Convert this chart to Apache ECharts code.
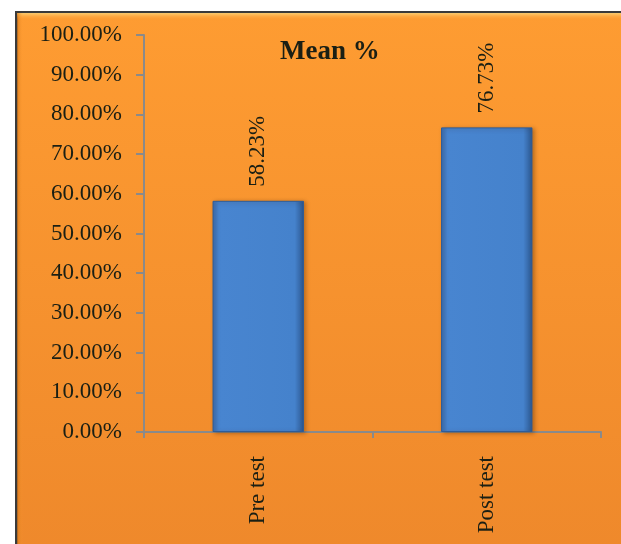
<!DOCTYPE html>
<html><head><meta charset="utf-8">
<script src="https://cdn.jsdelivr.net/npm/echarts@6/dist/echarts.min.js"></script>
<style>html,body{margin:0;padding:0;background:#fff}#c{width:621px;height:544px}</style>
</head><body><div id="c"></div>
<script>
const categories = ['Pre test', 'Post test'];
const meanValues = [0.5823, 0.7673];
const valueLabels = ['58.23%', '76.73%'];
const chartTitle = 'Mean %';

const serif = '"Liberation Serif", "Times New Roman", serif';
const textColor = '#1a1f14';
const chart = echarts.init(document.getElementById('c'), null, {renderer: 'canvas'});
chart.setOption({
  backgroundColor: '#ffffff',
  animation: false,
  graphic: [
    {type: 'rect', left: 15, top: 11, z: -10, silent: true,
     shape: {width: 640, height: 560},
     style: {fill: new echarts.graphic.LinearGradient(0, 0, 0, 1, [
       {offset: 0, color: '#fe9c32'}, {offset: 1, color: '#ee882b'}]),
       stroke: '#3a3a3a', lineWidth: 2.5}},
    {type: 'rect', left: 17, top: 13, z: -9, silent: true,
     shape: {width: 640, height: 7},
     style: {fill: new echarts.graphic.LinearGradient(0, 0, 0, 1, [
       {offset: 0, color: '#ffcf70'}, {offset: 1, color: 'rgba(254,156,50,0)'}])}},
    {type: 'rect', left: 17, top: 13, z: -9, silent: true,
     shape: {width: 6, height: 560},
     style: {fill: new echarts.graphic.LinearGradient(0, 0, 1, 0, [
       {offset: 0, color: 'rgba(200,110,20,0.6)'}, {offset: 1, color: 'rgba(254,156,50,0)'}])}}
  ],
  title: {
    text: chartTitle, left: 275, top: 34,
    textStyle: {fontFamily: serif, fontWeight: 'bold', fontSize: 27, color: textColor}
  },
  grid: {left: 144, right: 20, top: 35, bottom: 112, containLabel: false},
  xAxis: {
    type: 'category', data: categories,
    axisLine: {show: true, lineStyle: {color: '#8a8a8a', width: 2}},
    axisTick: {show: true, length: 6, alignWithLabel: false, lineStyle: {color: '#8a8a8a', width: 2}},
    axisLabel: {rotate: 90, margin: 24, fontFamily: serif, fontSize: 23, color: textColor},
    splitLine: {show: false}
  },
  yAxis: {
    type: 'value', min: 0, max: 1, interval: 0.1,
    axisLine: {show: true, lineStyle: {color: '#8a8a8a', width: 2}},
    axisTick: {show: true, length: 8, lineStyle: {color: '#8a8a8a', width: 2}},
    axisLabel: {margin: 22, fontFamily: serif, fontSize: 23, color: textColor,
      formatter: v => (v * 100).toFixed(2) + '%'},
    splitLine: {show: false}
  },
  series: [{
    type: 'bar', data: meanValues, barWidth: '40%',
    itemStyle: {
      color: new echarts.graphic.LinearGradient(0, 0, 1, 0, [
        {offset: 0, color: '#3a6db0'}, {offset: 0.07, color: '#4885d0'},
        {offset: 0.9, color: '#4582cc'}, {offset: 1, color: '#2b568e'}]),
      borderColor: '#2e5c98', borderWidth: 1,
      shadowColor: 'rgba(60,30,0,0.35)', shadowBlur: 4, shadowOffsetX: 2, shadowOffsetY: 1
    },
    label: {
      show: true, position: 'top', rotate: 90, align: 'left', verticalAlign: 'middle',
      distance: 14, fontFamily: serif, fontSize: 23, color: textColor,
      formatter: p => valueLabels[p.dataIndex]
    }
  }]
});
</script></body></html>
